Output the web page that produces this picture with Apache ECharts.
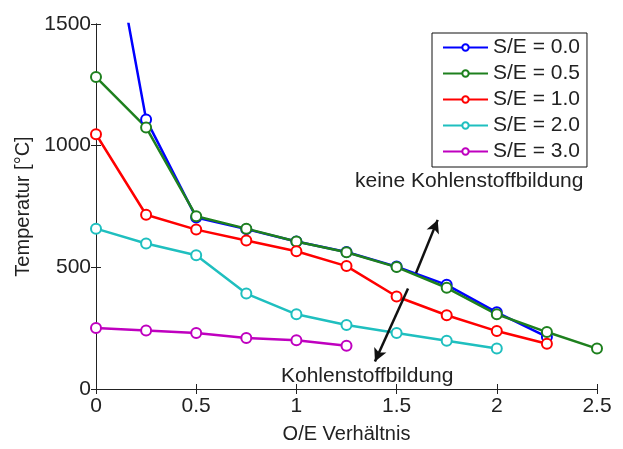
<!DOCTYPE html>
<html>
<head>
<meta charset="utf-8">
<script src="https://cdn.jsdelivr.net/npm/echarts@6/dist/echarts.min.js"></script>
<style>
  html, body { margin: 0; padding: 0; background: #fff; }
  #chart { width: 623px; height: 449px; }
</style>
</head>
<body>
<div id="chart"></div>
<script>
// O/E ratio on the x axis
const oeRatio = [0, 0.25, 0.5, 0.75, 1.0, 1.25, 1.5, 1.75, 2.0, 2.25, 2.5];

// Temperature limits [°C] per S/E ratio
const seLabels = ['S/E = 0.0', 'S/E = 0.5', 'S/E = 1.0', 'S/E = 2.0', 'S/E = 3.0'];
const tempSE00 = [2230, 1108, 705, 657, 606, 563, 503, 428, 315, 214];
const tempSE05 = [1282, 1075, 710, 659, 606, 562, 501, 416, 307, 234, 166];
const tempSE10 = [1047, 716, 655, 610, 566, 505, 380, 303, 238, 186];
const tempSE20 = [659, 598, 550, 392, 307, 263, 230, 198, 166];
const tempSE30 = [251, 240, 230, 210, 200, 178];
const seColors = ['#0000ff', '#1e801e', '#ff0000', '#1fbfbf', '#bf00bf'];

// Axis ticks
const xTicks = { min: 0, max: 2.5, interval: 0.5 };
const yTicks = { min: 0, max: 1500, interval: 500 };

// Arrow annotations in data coordinates: [from, to]
const arrowUp = [[1.597, 477], [1.705, 695]];
const arrowDown = [[1.557, 413], [1.392, 113]];

const FONT = 'Liberation Sans, Arial, sans-serif';
const temps = [tempSE00, tempSE05, tempSE10, tempSE20, tempSE30];

const lineSeries = temps.map((vals, i) => ({
  name: seLabels[i],
  type: 'line',
  data: vals.map((v, j) => [oeRatio[j], v]),
  symbol: 'emptyCircle',
  symbolSize: 10,
  clip: true,
  color: seColors[i],
  lineStyle: { width: 2.5, color: seColors[i] },
  itemStyle: { color: seColors[i], borderColor: seColors[i], borderWidth: 2 },
  emphasis: { disabled: true },
  animation: false
}));

const arrowSeries = {
  name: 'arrows',
  type: 'line',
  data: [],
  animation: false,
  markLine: {
    silent: true,
    symbol: ['none', 'arrow'],
    symbolSize: [10, 13],
    label: { show: false },
    lineStyle: { color: '#111', width: 2.5, type: 'solid' },
    data: [
      [{ coord: arrowUp[0] }, { coord: arrowUp[1] }],
      [{ coord: arrowDown[0] }, { coord: arrowDown[1] }]
    ]
  }
};

const axisLine = { show: true, lineStyle: { color: '#222', width: 1 } };
const tickInside = { show: true, inside: true, length: 5, lineStyle: { color: '#222' } };
const plainNumber = v => String(v);

const chart = echarts.init(document.getElementById('chart'), null, { renderer: 'canvas' });
chart.setOption({
  animation: false,
  backgroundColor: '#fff',
  textStyle: { fontFamily: FONT },
  grid: { left: 96, right: 26, top: 24, bottom: 54, containLabel: false },
  xAxis: [
    {
      type: 'value', ...xTicks, position: 'bottom',
      name: 'O/E Verhältnis', nameLocation: 'middle', nameGap: 35,
      nameTextStyle: { fontSize: 20, color: '#222', fontFamily: FONT },
      axisLine, axisTick: tickInside, splitLine: { show: false },
      axisLabel: { fontSize: 21, color: '#222', margin: 7, fontFamily: FONT, formatter: plainNumber }
    },
    {
      type: 'value', ...xTicks, position: 'top',
      axisLine, axisTick: tickInside, splitLine: { show: false },
      axisLabel: { show: false }
    }
  ],
  yAxis: [
    {
      type: 'value', ...yTicks, position: 'left',
      name: 'Temperatur [°C]', nameLocation: 'middle', nameGap: 61,
      nameTextStyle: { fontSize: 20, color: '#222', fontFamily: FONT },
      axisLine, axisTick: tickInside, splitLine: { show: false },
      axisLabel: { fontSize: 21, color: '#222', margin: 5, fontFamily: FONT, formatter: plainNumber }
    },
    {
      type: 'value', ...yTicks, position: 'right',
      axisLine, axisTick: tickInside, splitLine: { show: false },
      axisLabel: { show: false }
    }
  ],
  legend: {
    data: seLabels,
    orient: 'vertical',
    left: 432,
    top: 33,
    backgroundColor: '#fff',
    borderColor: '#111',
    borderWidth: 1,
    borderRadius: 0,
    padding: [4, 7, 5, 10],
    itemGap: 5,
    itemWidth: 45,
    itemHeight: 8,
    textStyle: { fontSize: 21, color: '#222', fontFamily: FONT },
    selectedMode: false
  },
  graphic: [
    {
      type: 'text', left: 355, top: 171,
      style: { text: 'keine Kohlenstoffbildung', fontSize: 21, fill: '#222', fontFamily: FONT }
    },
    {
      type: 'text', left: 281, top: 366,
      style: { text: 'Kohlenstoffbildung', fontSize: 21, fill: '#222', fontFamily: FONT }
    }
  ],
  series: [...lineSeries, arrowSeries]
});
</script>
</body>
</html>
